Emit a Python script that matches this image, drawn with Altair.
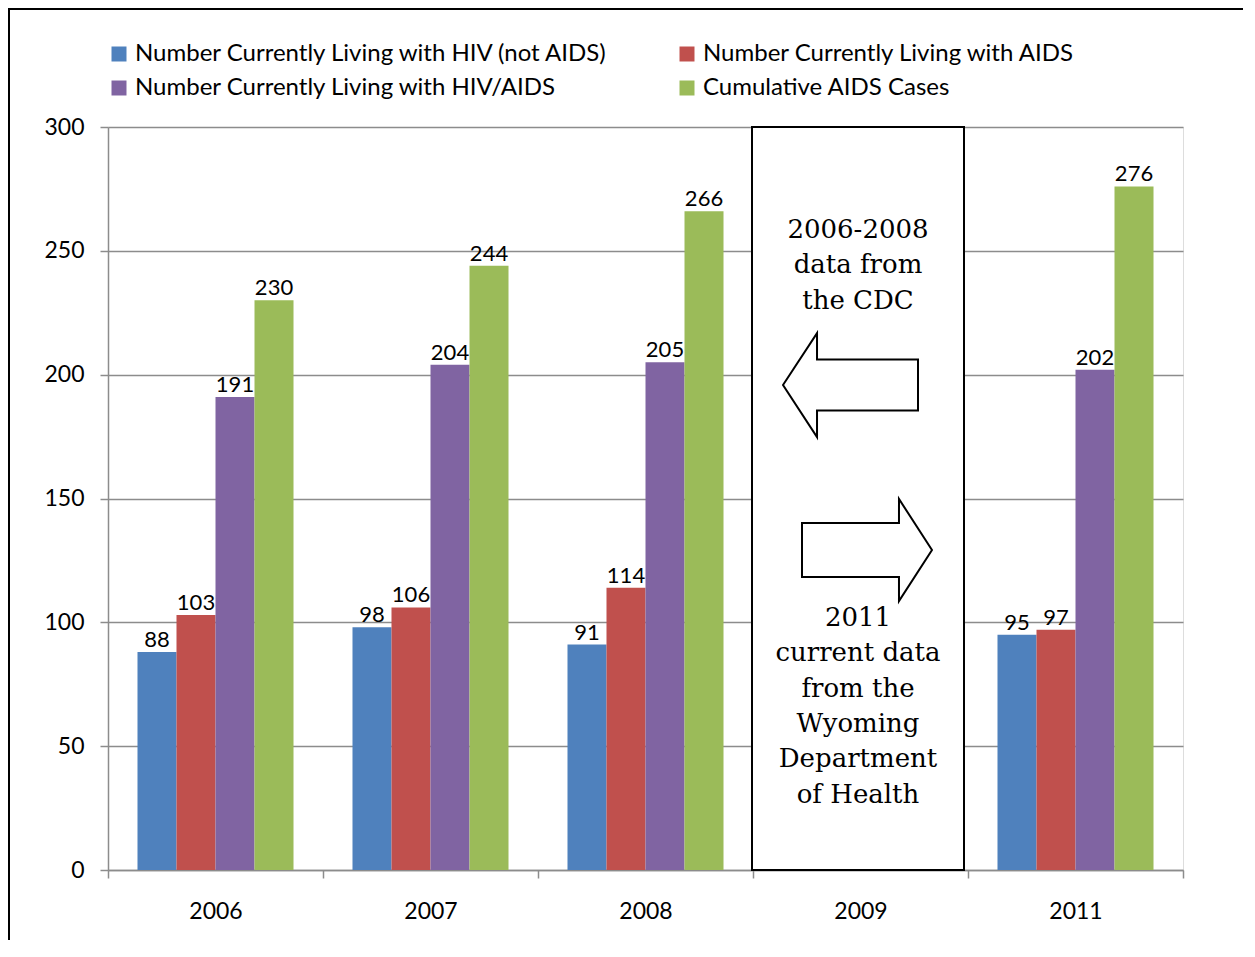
import altair as alt
import pandas as pd

# ---- data ----
years = ["2006", "2007", "2008", "2009", "2011"]
data_years = ["2006", "2007", "2008", "2011"]
series = [
    "Number Currently Living with HIV (not AIDS)",
    "Number Currently Living with AIDS",
    "Number Currently Living with HIV/AIDS",
    "Cumulative AIDS Cases",
]
colors = ["#4F81BD", "#C0504D", "#8064A2", "#9BBB59"]
hiv_not_aids = [88, 98, 91, 95]
aids = [103, 106, 114, 97]
hiv_aids = [191, 204, 205, 202]
cumulative = [230, 244, 266, 276]

note_left = "2006-2008\ndata from\nthe CDC"
note_right = "2011\ncurrent data\nfrom the\nWyoming\nDepartment\nof Health"

rows = []
for s, vals in zip(series, [hiv_not_aids, aids, hiv_aids, cumulative]):
    for y, v in zip(data_years, vals):
        rows.append({"year": y, "series": s, "value": v})
df = pd.DataFrame(rows)

# legend laid out column by column: blue, purple | red, green
legend_order = [series[0], series[2], series[1], series[3]]
legend_colors = [colors[0], colors[2], colors[1], colors[3]]

FONT = "Lato"
GRID = "#8c8c8c"

x_enc = alt.X(
    "year:N",
    sort=years,
    scale=alt.Scale(domain=years, paddingInner=0, paddingOuter=0),
    axis=alt.Axis(
        title=None, labelAngle=0, tickBand="extent", tickSize=8, tickColor=GRID,
        tickWidth=1.5, domainColor=GRID, domainWidth=1.5, labelFont=FONT,
        labelFontSize=23, labelColor="black", labelPadding=22,
    ),
)
y_enc = alt.Y(
    "value:Q",
    scale=alt.Scale(domain=[0, 300], nice=False, zero=True),
    axis=alt.Axis(
        title=None, values=[0, 50, 100, 150, 200, 250, 300], grid=True,
        gridColor=GRID, gridWidth=1.5, tickSize=8, tickColor=GRID, tickWidth=1.5,
        domainColor=GRID, domainWidth=1.5, labelFont=FONT, labelFontSize=23,
        labelColor="black", labelPadding=16,
    ),
)
xoff = alt.XOffset(
    "series:N", sort=series,
    scale=alt.Scale(domain=series, paddingInner=0, paddingOuter=0.756),
)

bars = alt.Chart(df).mark_bar().encode(
    x=x_enc,
    y=y_enc,
    xOffset=xoff,
    color=alt.Color(
        "series:N",
        sort=legend_order,
        scale=alt.Scale(domain=legend_order, range=legend_colors),
        legend=alt.Legend(
            orient="none", legendX=-1, legendY=-85, columns=2, title=None,
            symbolType="square", symbolSize=225, symbolStrokeWidth=0,
            symbolOpacity=1, labelFont=FONT, labelFontSize=24,
            labelColor="black", labelLimit=0, columnPadding=66, rowPadding=10,
            padding=0, labelOffset=4,
        ),
    ),
)

labels = alt.Chart(df).mark_text(
    baseline="alphabetic", dy=-5, font=FONT, fontSize=22, color="black"
).encode(x=x_enc, y=y_enc, xOffset=xoff, text="value:Q")

box_df = pd.DataFrame({"year": ["2009"], "value": [300], "value2": [0]})
box = alt.Chart(box_df).mark_bar(
    fill="white", stroke="black", strokeWidth=2, width=212, xOffset=-2.5
).encode(x=x_enc, y=y_enc, y2="value2:Q")

left_arrow = "M -1 0 L -0.496 -0.77 L -0.496 -0.378 L 1 -0.378 L 1 0.378 L -0.496 0.378 L -0.496 0.77 Z"
right_arrow = "M 1 0 L 0.492 -0.785 L 0.492 -0.415 L -1 -0.415 L -1 0.415 L 0.492 0.415 L 0.492 0.785 Z"

arrow_l = alt.Chart(pd.DataFrame({"year": ["2009"], "value": [195.8]})).mark_point(
    shape=left_arrow, size=18225, filled=True, fill="white", stroke="black",
    strokeWidth=2, opacity=1, xOffset=-10,
).encode(x=x_enc, y=y_enc)
arrow_r = alt.Chart(pd.DataFrame({"year": ["2009"], "value": [129.2]})).mark_point(
    shape=right_arrow, size=16900, filled=True, fill="white", stroke="black",
    strokeWidth=2, opacity=1, xOffset=6.5,
).encode(x=x_enc, y=y_enc)

# y value = centre of each block's first line
notes_df = pd.DataFrame({"year": ["2009", "2009"], "value": [258.4, 101.7],
                         "note": [note_left, note_right]})
notes = alt.Chart(notes_df).mark_text(
    font="DejaVu Serif", fontSize=26, color="black", lineBreak="\n",
    lineHeight=35.3, baseline="middle", align="center", dx=-2.5,
).encode(x=x_enc, y=y_enc, text="note:N")

# outer chart frame (top and left edges only are visible)
frame_top = alt.Chart(pd.DataFrame({"a": [0]})).mark_rule(
    color="black", strokeWidth=2
).encode(x=alt.value(-99), x2=alt.value(1135), y=alt.value(-118))
frame_left = alt.Chart(pd.DataFrame({"a": [0]})).mark_rule(
    color="black", strokeWidth=2
).encode(x=alt.value(-99), y=alt.value(-119), y2=alt.value(813))

chart = alt.layer(frame_top, frame_left, bars, labels, box, arrow_l, arrow_r, notes).properties(
    width=1075, height=743,
    autosize=alt.AutoSizeParams(type="none"),
    padding={"left": 100, "top": 119, "right": 60, "bottom": 70},
).configure_view(stroke=None).configure(background="white")

chart.save("out.html", embed_options={"renderer": "svg", "actions": False})
